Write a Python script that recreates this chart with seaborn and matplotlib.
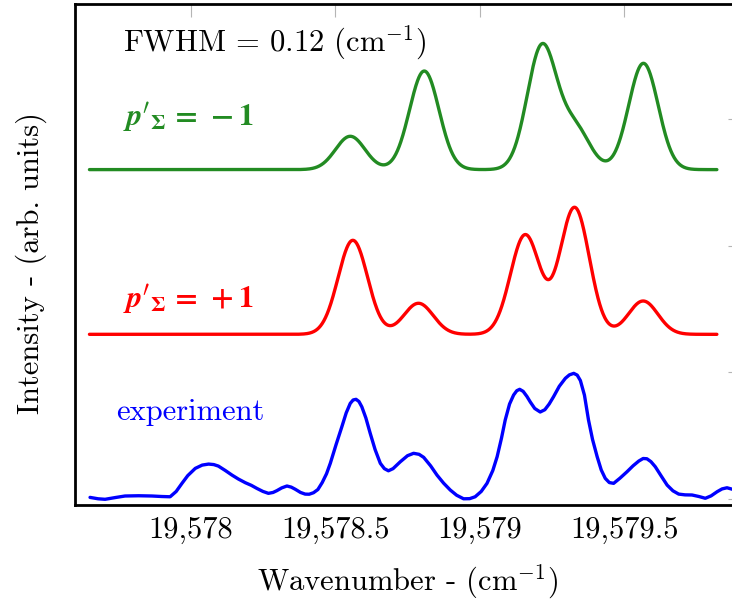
import numpy as np
import pandas as pd
import matplotlib
matplotlib.use("Agg")
import matplotlib.pyplot as plt
from matplotlib.ticker import FixedLocator, FixedFormatter
import seaborn as sns

# Measured spectrum (wavenumber in cm^-1, intensity in arb. units)
exp_wavenumber = [
    19577.652, 19577.680, 19577.704, 19577.740, 19577.773, 19577.820, 19577.866,
    19577.900, 19577.929, 19577.950, 19577.970, 19577.990, 19578.016, 19578.040,
    19578.062, 19578.080, 19578.096, 19578.120, 19578.143, 19578.165, 19578.189,
    19578.210, 19578.229, 19578.250, 19578.269, 19578.285, 19578.298, 19578.315,
    19578.333, 19578.348, 19578.362, 19578.380, 19578.396, 19578.410, 19578.425,
    19578.440, 19578.455, 19578.470, 19578.483, 19578.503, 19578.523, 19578.538,
    19578.552, 19578.562, 19578.572, 19578.582, 19578.592, 19578.606, 19578.621,
    19578.638, 19578.656, 19578.670, 19578.684, 19578.700, 19578.725, 19578.750,
    19578.771, 19578.790, 19578.806, 19578.830, 19578.852, 19578.875, 19578.898,
    19578.920, 19578.944, 19578.965, 19578.984, 19579.005, 19579.025, 19579.045,
    19579.060, 19579.075, 19579.088, 19579.103, 19579.117, 19579.128, 19579.138,
    19579.150, 19579.163, 19579.175, 19579.190, 19579.209, 19579.225, 19579.240,
    19579.255, 19579.275, 19579.296, 19579.310, 19579.325, 19579.337, 19579.348,
    19579.362, 19579.376, 19579.390, 19579.406, 19579.420, 19579.434, 19579.448,
    19579.463, 19579.485, 19579.509, 19579.530, 19579.550, 19579.565, 19579.578,
    19579.592, 19579.607, 19579.628, 19579.648, 19579.668, 19579.688, 19579.710,
    19579.734, 19579.758, 19579.780, 19579.800, 19579.821, 19579.838, 19579.855,
    19579.874, 19579.900,
]
exp_intensity = [
    0.013, 0.002, -0.002, 0.012, 0.024, 0.026, 0.024,
    0.020, 0.018, 0.060, 0.124, 0.185, 0.242, 0.268,
    0.276, 0.272, 0.260, 0.225, 0.189, 0.158, 0.129,
    0.108, 0.084, 0.060, 0.045, 0.052, 0.066, 0.088,
    0.103, 0.094, 0.077, 0.052, 0.039, 0.038, 0.050,
    0.075, 0.130, 0.200, 0.282, 0.430, 0.571, 0.680,
    0.755, 0.782, 0.787, 0.770, 0.728, 0.640, 0.519,
    0.390, 0.282, 0.240, 0.223, 0.240, 0.294, 0.342,
    0.361, 0.353, 0.329, 0.262, 0.189, 0.125, 0.071,
    0.030, 0.002, 0.003, 0.018, 0.060, 0.124, 0.225,
    0.334, 0.480, 0.624, 0.750, 0.821, 0.855, 0.866,
    0.850, 0.810, 0.765, 0.715, 0.687, 0.705, 0.750,
    0.807, 0.890, 0.953, 0.980, 0.992, 0.978, 0.935,
    0.820, 0.624, 0.470, 0.334, 0.230, 0.163, 0.130,
    0.124, 0.165, 0.215, 0.262, 0.300, 0.320, 0.318,
    0.295, 0.255, 0.180, 0.110, 0.065, 0.039, 0.033,
    0.032, 0.020, 0.006, 0.025, 0.058, 0.080, 0.089,
    0.077, 0.055,
]

# Simulated line lists for the two parity components
fwhm = 0.12
plus_lines = [19578.561, 19578.788, 19579.157, 19579.328, 19579.565]
plus_strength = [0.742, 0.245, 0.784, 1.000, 0.263]
minus_lines = [19578.552, 19578.808, 19579.215, 19579.330, 19579.566]
minus_strength = [0.263, 0.778, 0.969, 0.318, 0.839]
plus_offset = 1.30
minus_offset = 2.60
sim_range = (19577.65, 19579.82)

tick_values = [19578.0, 19578.5, 19579.0, 19579.5]
tick_labels = ["19,578", "19,578.5", "19,579", "19,579.5"]


def broadened(grid, centres, strengths, width):
    sigma = width / (2.0 * np.sqrt(2.0 * np.log(2.0)))
    total = np.zeros_like(grid)
    for c, s in zip(centres, strengths):
        total += s * np.exp(-0.5 * ((grid - c) / sigma) ** 2)
    return total


sns.set_theme(style="white")
plt.rcParams.update({
    "font.family": "serif",
    "font.serif": ["cmr10"],
    "mathtext.fontset": "cm",
    # fonts used by the bold parity labels (custom math set)
    "mathtext.rm": "cmr10",
    "mathtext.it": "STIXGeneral:italic:bold",
    "mathtext.bf": "STIXGeneral:bold",
    "mathtext.bfit": "STIXGeneral:italic:bold",
    "mathtext.fallback": "cm",
    "axes.formatter.use_mathtext": True,
    "axes.unicode_minus": True,
    "text.color": "black",
    "axes.labelcolor": "black",
    "xtick.labelcolor": "black",
    "ytick.labelcolor": "black",
})

grid = np.linspace(sim_range[0], sim_range[1], 1500)
df_plus = pd.DataFrame({"wn": grid,
                        "I": plus_offset + broadened(grid, plus_lines, plus_strength, fwhm)})
df_minus = pd.DataFrame({"wn": grid,
                         "I": minus_offset + broadened(grid, minus_lines, minus_strength, fwhm)})
df_exp = pd.DataFrame({"wn": exp_wavenumber, "I": exp_intensity})

W, H = 732, 601
fig = plt.figure(figsize=(W / 100, H / 100), dpi=100)
fig.patch.set_facecolor("white")
ax = fig.add_axes([75 / W, 96 / H, 665 / W, 501 / H])
ax.set_facecolor("white")

lw = 2.4
sns.lineplot(data=df_exp, x="wn", y="I", ax=ax, color="#0000ff", lw=lw,
             sort=False, estimator=None, solid_joinstyle="round",
             solid_capstyle="round")
sns.lineplot(data=df_plus, x="wn", y="I", ax=ax, color="#ff0000", lw=lw,
             sort=False, estimator=None)
sns.lineplot(data=df_minus, x="wn", y="I", ax=ax, color="#228b22", lw=lw,
             sort=False, estimator=None)

ax.set_xlim(19577.6, 19579.9)
ax.set_ylim(-0.047, 3.907)

ax.xaxis.set_major_locator(FixedLocator(tick_values))
ax.xaxis.set_major_formatter(FixedFormatter(tick_labels))
ax.yaxis.set_major_locator(FixedLocator([0, 1, 2, 3]))
ax.tick_params(axis="both", which="major", direction="in", length=9, width=0.8,
               color="#b5b5b5", top=True, right=True, labelsize=22, pad=8,
               labelcolor="black")
ax.tick_params(axis="y", labelleft=False, labelright=False)
for sp in ax.spines.values():
    sp.set_color("black")
    sp.set_linewidth(2.0)
    sp.set_visible(True)

ax.set_xlabel(r"Wavenumber - (cm$^{-1}$)", fontsize=22, labelpad=14)
ax.set_ylabel("Intensity - (arb. units)", fontsize=22)
ax.yaxis.set_label_coords(-0.042, 0.483)

ax.text(0.0722, 0.9048, r"FWHM = 0.12 (cm$^{-1}$)", transform=ax.transAxes,
        fontsize=22, color="black", ha="left", va="baseline")
ax.text(0.0722, 0.755, r"$\mathbfit{p}'_{\mathbf{\Sigma}}\mathbf{\,=\,-1}$",
        transform=ax.transAxes, fontsize=22, color="#228b22", ha="left",
        va="baseline", math_fontfamily="custom")
ax.text(0.0722, 0.393, r"$\mathbfit{p}'_{\mathbf{\Sigma}}\mathbf{\,=\,+1}$",
        transform=ax.transAxes, fontsize=22, color="#ff0000", ha="left",
        va="baseline", math_fontfamily="custom")
ax.text(0.0612, 0.1697, "experiment", transform=ax.transAxes,
        fontsize=22, color="#0000ff", ha="left", va="baseline")

fig.savefig("out.png", dpi=100, facecolor="white")
